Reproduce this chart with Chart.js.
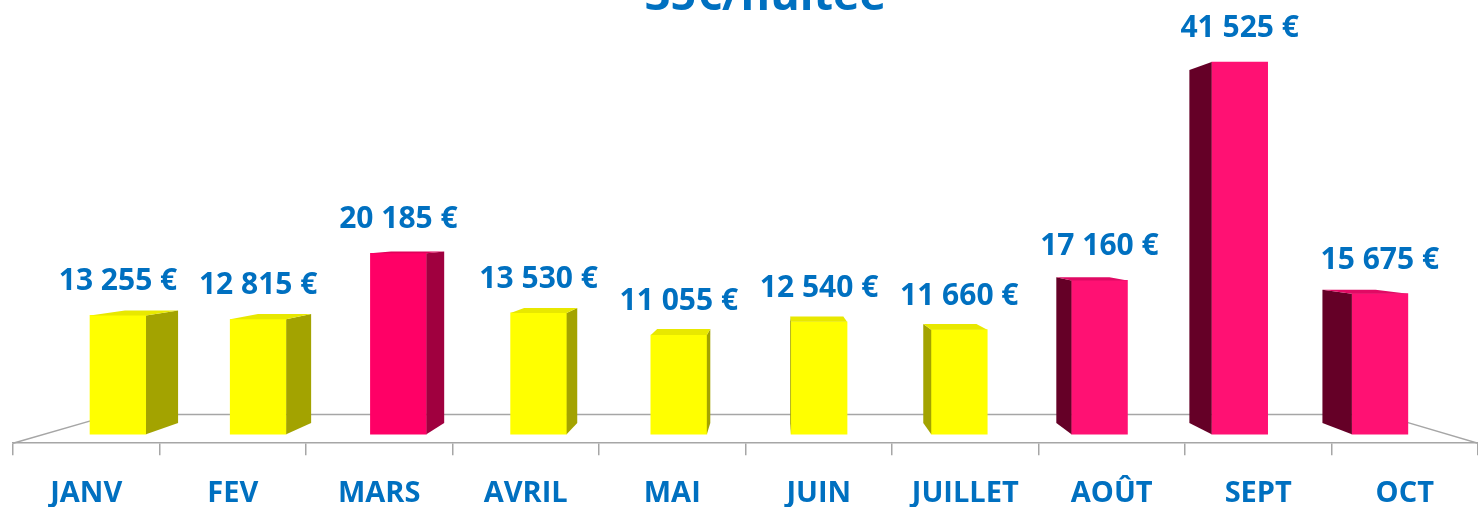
<!DOCTYPE html>
<html>
<head>
<meta charset="utf-8">
<script src="https://cdn.jsdelivr.net/npm/chart.js@4.4.0/dist/chart.umd.min.js"></script>
<style>
  html, body { margin: 0; padding: 0; background: #fff; }
  #wrap { width: 1478px; height: 507px; position: relative; }
</style>
</head>
<body>
<div id="wrap"><canvas id="chart"></canvas></div>
<script>
const months = ['JANV', 'FEV', 'MARS', 'AVRIL', 'MAI', 'JUIN', 'JUILLET', 'AOÛT', 'SEPT', 'OCT'];
const revenue = [13255, 12815, 20185, 13530, 11055, 12540, 11660, 17160, 41525, 15675];
const chartTitle = '35€/nuitée';

// styles
const yellow = { front: '#FFFF00', side: '#A3A300', top: '#E8E800' };
const pinkA = { front: '#FF0066', side: '#A0003F', top: '#E0005A' };
const pinkB = { front: '#FF1173', side: '#650027', top: '#E00A64' };
const barStyles = [yellow, yellow, pinkA, yellow, yellow, yellow, yellow, pinkB, pinkB, pinkB];
const blue = '#0070C0';
const floorGrey = '#A6A6A6';
const fontFam = '"Open Sans", sans-serif';

function euro(v) {
  return String(v).replace(/\B(?=(\d{3})+(?!\d))/g, ' ') + ' €';
}

// perspective helpers (vanishing point / eye level as fractions of the chart area)
function persp(chart) {
  const a = chart.chartArea;
  const vx = a.left + (a.right - a.left) * 0.52;
  const ey = a.top + (a.bottom - a.top) * 0.49;
  const s = 0.949;
  return { bx: x => vx + (x - vx) * s, by: y => ey + (y - ey) * s, vx, ey };
}

const floorPlugin = {
  id: 'floor',
  beforeDatasetsDraw(chart) {
    const ctx = chart.ctx, a = chart.chartArea;
    const y0 = chart.scales.y.getPixelForValue(0);
    const back = y0 - (a.bottom - y0) * 2.2;
    ctx.save();
    ctx.strokeStyle = floorGrey;
    ctx.lineWidth = 1.5;
    ctx.beginPath();
    ctx.moveTo(a.left, a.bottom);
    ctx.lineTo(a.left + 100, back);
    ctx.lineTo(a.right - 98, back);
    ctx.lineTo(a.right, a.bottom);
    ctx.stroke();
    ctx.restore();
  }
};

const box3dPlugin = {
  id: 'box3d',
  afterDatasetsDraw(chart) {
    const ctx = chart.ctx;
    const p = persp(chart);
    const meta = chart.getDatasetMeta(0);
    ctx.save();
    meta.data.forEach((bar, i) => {
      const st = barStyles[i];
      const { x, y, base, width } = bar.getProps(['x', 'y', 'base', 'width'], true);
      const x0 = x - width / 2, x1 = x + width / 2;
      if (x1 < p.vx) {
        ctx.fillStyle = st.side;
        ctx.beginPath();
        ctx.moveTo(x1, y); ctx.lineTo(p.bx(x1), p.by(y));
        ctx.lineTo(p.bx(x1), p.by(base)); ctx.lineTo(x1, base);
        ctx.closePath(); ctx.fill();
      } else if (x0 > p.vx) {
        ctx.fillStyle = st.side;
        ctx.beginPath();
        ctx.moveTo(x0, y); ctx.lineTo(p.bx(x0), p.by(y));
        ctx.lineTo(p.bx(x0), p.by(base)); ctx.lineTo(x0, base);
        ctx.closePath(); ctx.fill();
      }
      if (y > p.ey) {
        ctx.fillStyle = st.top;
        ctx.beginPath();
        ctx.moveTo(x0, y); ctx.lineTo(x1, y);
        ctx.lineTo(p.bx(x1), p.by(y)); ctx.lineTo(p.bx(x0), p.by(y));
        ctx.closePath(); ctx.fill();
      }
      // value label
      ctx.fillStyle = blue;
      ctx.font = 'bold 30px ' + fontFam;
      ctx.textAlign = 'center';
      ctx.textBaseline = 'alphabetic';
      ctx.fillText(euro(revenue[i]), x, y - 25);
    });
    // title, cut off at the top as in the original
    ctx.font = 'bold 45px ' + fontFam;
    ctx.textAlign = 'center';
    ctx.fillStyle = blue;
    ctx.fillText(chartTitle, (chart.chartArea.left + chart.chartArea.right) / 2 + 20, 10);
    ctx.restore();
  }
};

new Chart(document.getElementById('chart'), {
  type: 'bar',
  data: {
    labels: months,
    datasets: [{
      data: revenue.map((v, i) => ({ x: i, y: v })),
      xAxisID: 'xb',
      backgroundColor: barStyles.map(s => s.front),
      barThickness: 56,
      borderWidth: 0
    }]
  },
  options: {
    responsive: true,
    maintainAspectRatio: false,
    animation: false,
    // negative bottom padding: the tick padding is counted below the labels too
    layout: { padding: { left: 13, right: 0, top: 0, bottom: -25 } },
    plugins: { legend: { display: false }, tooltip: { enabled: false } },
    scales: {
      x: {
        type: 'category',
        offset: true,
        grid: { offset: true, drawOnChartArea: false, color: floorGrey, tickLength: 12, lineWidth: 1.5 },
        border: { display: true, color: floorGrey, width: 1.5 },
        ticks: { color: blue, font: { family: fontFam, size: 29, weight: 'bold' }, padding: 21, maxRotation: 0, autoSkip: false }
      },
      xb: {
        type: 'linear',
        display: false,
        offset: false,
        grace: 0,
        min: -0.749,
        max: 9.70
      },
      y: {
        display: false,
        min: -1005,
        max: 48443
      }
    }
  },
  plugins: [floorPlugin, box3dPlugin]
});
</script>
</body>
</html>
